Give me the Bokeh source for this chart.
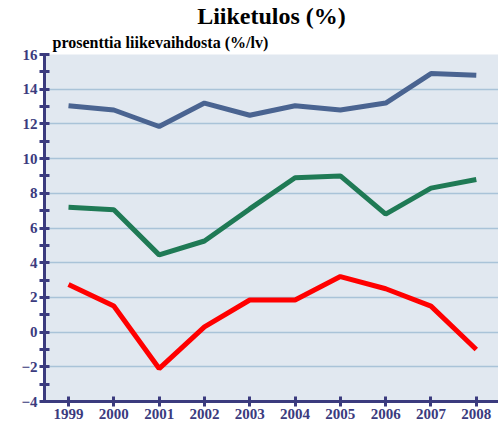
from bokeh.plotting import figure
from bokeh.models import FixedTicker, Title, Range1d
from bokeh.embed import file_html
from bokeh.resources import INLINE

years = [1999, 2000, 2001, 2002, 2003, 2004, 2005, 2006, 2007, 2008]
series_blue = [13.05, 12.8, 11.85, 13.2, 12.5, 13.05, 12.8, 13.2, 14.9, 14.8]
series_green = [7.2, 7.05, 4.45, 5.25, 7.1, 8.9, 9.0, 6.8, 8.3, 8.8]
series_red = [2.75, 1.5, -2.1, 0.3, 1.85, 1.85, 3.2, 2.5, 1.5, -1.0]
y_ticks = [-4, -2, 0, 2, 4, 6, 8, 10, 12, 14, 16]
y_minor = [-3, -1, 1, 3, 5, 7, 9, 11, 13, 15]

navy = "#3b3b7e"
serif = "Liberation Serif"

p = figure(width=498, height=421, output_backend="svg", toolbar_location=None,
           x_range=Range1d(1998.47, 2008.49), y_range=Range1d(-4, 16),
           background_fill_color="#e1e8f0", border_fill_color="white",
           min_border_left=44, min_border_right=0, min_border_bottom=19,
           min_border_top=11,
           title="Liiketulos (%)")
p.outline_line_color = None
p.title.align = "center"
p.title.text_font = serif
p.title.text_font_size = "24px"
p.title.text_font_style = "bold"
p.title.text_color = "black"
p.title.standoff = 0

sub = Title(text="prosenttia liikevaihdosta (%/lv)", align="left", offset=8,
            text_font=serif, text_font_size="16px", text_font_style="bold",
            text_color="black", standoff=7)
p.add_layout(sub, "above")

p.line(years, series_blue, line_color="#4a6491", line_width=5)
p.line(years, series_green, line_color="#1f7a55", line_width=5)
p.line(years, series_red, line_color="#ff0000", line_width=5)

p.xgrid.grid_line_color = None
p.ygrid.ticker = FixedTicker(ticks=y_ticks)
p.ygrid.grid_line_color = "#a9c3d8"
p.ygrid.grid_line_width = 1.5

p.yaxis.ticker = FixedTicker(ticks=y_ticks, minor_ticks=y_minor)
p.yaxis.major_label_overrides = {t: (f"\u2212{abs(t)}" if t < 0 else str(t)) for t in y_ticks}
p.xaxis.ticker = FixedTicker(ticks=years)

for ax in (p.xaxis, p.yaxis):
    ax.axis_line_color = navy
    ax.axis_line_width = 3
    ax.major_tick_line_color = navy
    ax.major_tick_line_width = 3
    ax.major_tick_in = 5
    ax.major_tick_out = 5
    ax.minor_tick_line_color = navy
    ax.minor_tick_line_width = 3
    ax.minor_tick_in = 5
    ax.minor_tick_out = 5
    ax.major_label_text_font = serif
    ax.major_label_text_font_style = "bold"
    ax.major_label_text_color = navy
    ax.major_label_standoff = 2

p.xaxis.minor_tick_line_color = None
p.xaxis.major_label_text_font_size = "15px"
p.yaxis.major_label_text_font_size = "15px"

open("out.html", "w").write(file_html(p, INLINE))
